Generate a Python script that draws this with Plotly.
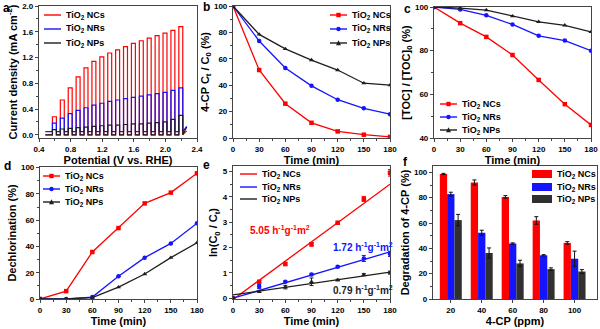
import plotly.graph_objects as go

W, H = 600, 329
FONT = "Liberation Sans, Arial, sans-serif"
RED, BLUE, BLACK = "#ff0000", "#1414ff", "#1e1e1e"
BAR_BLACK = "#303030"
AXC = "#444444"

series_names = ["TiO<sub>2</sub> NCs", "TiO<sub>2</sub> NRs", "TiO<sub>2</sub> NPs"]
colors = [RED, BLUE, BLACK]
symbols = ["square", "circle", "triangle-up"]
time_min = [0, 30, 60, 90, 120, 150, 180]

# ---------------- (a) chopped photocurrent ----------------
a_start_v = 0.48
a_end_v = 2.27
a_light_on_v = [0.57, 0.67, 0.77, 0.87, 0.97, 1.07, 1.17, 1.27, 1.37,
                1.47, 1.57, 1.67, 1.77, 1.87, 1.97, 2.07, 2.17]
a_light_width = 0.05
a_nc_light = [0.28, 0.54, 0.73, 0.90, 1.04, 1.14, 1.21, 1.27, 1.32,
              1.37, 1.42, 1.46, 1.50, 1.54, 1.58, 1.62, 1.68]
a_nr_light = [0.18, 0.26, 0.33, 0.38, 0.42, 0.46, 0.49, 0.52, 0.54,
              0.56, 0.58, 0.60, 0.62, 0.64, 0.66, 0.69, 0.73]
a_np_light = [0.08, 0.09, 0.10, 0.11, 0.12, 0.13, 0.14, 0.15, 0.15,
              0.16, 0.17, 0.17, 0.18, 0.19, 0.20, 0.24, 0.30]
a_dark = [0.0, 0.05, 0.0]
a_end = [0.06, 0.13, 0.12]

# ---------------- (b) 4-CP Ct/C0 ----------------
b_nc = [100, 51.5, 26.0, 11.5, 5.0, 2.5, 0.8]
b_nr = [100, 73.5, 53.0, 39.5, 29.0, 22.5, 18.0]
b_np = [100, 78.5, 67.5, 59.0, 51.5, 41.5, 40.0]

# ---------------- (c) TOC ----------------
c_nc = [100, 92.6, 86.3, 78.0, 66.6, 55.5, 46.0]
c_nr = [100, 98.9, 96.2, 92.0, 86.8, 84.6, 80.0]
c_np = [100, 99.5, 98.6, 95.8, 93.2, 91.6, 88.6]

# ---------------- (d) dechlorination ----------------
d_nc = [0, 6.0, 35.8, 54.0, 72.8, 81.0, 95.7]
d_nr = [0, 0.0, 1.5, 17.4, 31.5, 42.3, 57.7]
d_np = [0, 0.0, 1.0, 9.0, 19.0, 31.5, 42.8]

# ---------------- (e) kinetics ----------------
e_nc = [0, 0.65, 1.35, 2.13, 2.98, 3.92, 4.95]
e_nr = [0, 0.46, 0.65, 0.94, 1.24, 1.57, 1.75]
e_np = [0, 0.26, 0.44, 0.65, 0.72, 0.93, 1.01]
e_nc_err = [0, 0.05, 0.05, 0.07, 0.03, 0.10, 0.13]
e_nr_err = [0, 0.08, 0.03, 0.04, 0.03, 0.12, 0.10]
e_np_err = [0, 0.03, 0.07, 0.15, 0.03, 0.04, 0.06]
e_fit_t = [0, 180]
e_fit_nc = [-0.05, 4.50]
e_fit_nr = [0.00, 1.83]
e_fit_np = [0.13, 1.03]
e_rate_labels = ["5.05 h<sup>-1</sup>g<sup>-1</sup>m<sup>2</sup>",
                 "1.72 h<sup>-1</sup>g<sup>-1</sup>m<sup>2</sup>",
                 "0.79 h<sup>-1</sup>g<sup>-1</sup>m<sup>2</sup>"]

# ---------------- (f) degradation vs concentration ----------------
f_conc = [20, 40, 60, 80, 100]
f_nc = [98.7, 92.0, 80.6, 62.0, 44.3]
f_nr = [82.8, 52.3, 43.8, 34.5, 31.8]
f_np = [62.3, 36.3, 28.1, 23.6, 21.7]
f_nc_err = [0.5, 2.0, 1.0, 3.0, 1.0]
f_nr_err = [1.5, 2.0, 0.5, 0.5, 6.0]
f_np_err = [4.5, 4.0, 2.5, 1.0, 1.5]

fig = go.Figure()


def chop(light, dark, end):
    xs, ys = [a_start_v], [dark]
    for v, top in zip(a_light_on_v, light):
        xs += [v, v, v + a_light_width, v + a_light_width]
        ys += [dark, top, top, dark]
    xs.append(a_end_v)
    ys.append(end)
    return xs, ys


for i, light in enumerate([a_nc_light, a_nr_light, a_np_light]):
    xs, ys = chop(light, a_dark[i], a_end[i])
    fig.add_trace(go.Scatter(x=xs, y=ys, mode="lines", name=series_names[i],
                             line=dict(color=colors[i], width=1.2),
                             xaxis="x", yaxis="y", showlegend=False))

for ax_i, data in [(2, [b_nc, b_nr, b_np]), (3, [c_nc, c_nr, c_np]), (4, [d_nc, d_nr, d_np])]:
    for i, ys in enumerate(data):
        fig.add_trace(go.Scatter(x=time_min, y=ys, mode="lines+markers", name=series_names[i],
                                 line=dict(color=colors[i], width=1.3),
                                 marker=dict(symbol=symbols[i], size=4.5, color=colors[i]),
                                 xaxis=f"x{ax_i}", yaxis=f"y{ax_i}", showlegend=False))

for i, (ys, err, fit) in enumerate([(e_nc, e_nc_err, e_fit_nc), (e_nr, e_nr_err, e_fit_nr), (e_np, e_np_err, e_fit_np)]):
    fig.add_trace(go.Scatter(x=e_fit_t, y=fit, mode="lines", name=series_names[i],
                             line=dict(color=colors[i], width=1.3),
                             xaxis="x5", yaxis="y5", showlegend=False))
    fig.add_trace(go.Scatter(x=time_min, y=ys, mode="markers", name=series_names[i],
                             marker=dict(symbol=symbols[i], size=4.5, color=colors[i]),
                             error_y=dict(type="data", array=err, color=colors[i], thickness=1, width=2),
                             xaxis="x5", yaxis="y5", showlegend=False))

for i, (ys, err) in enumerate([(f_nc, f_nc_err), (f_nr, f_nr_err), (f_np, f_np_err)]):
    fig.add_trace(go.Bar(x=f_conc, y=ys, name=series_names[i],
                         marker=dict(color=[RED, BLUE, BAR_BLACK][i], line=dict(width=0)),
                         error_y=dict(type="data", array=err, color="#111", thickness=1, width=2),
                         xaxis="x6", yaxis="y6", showlegend=False))


def px(x):
    return x / W


def py(y):
    return 1 - y / H


# plot-area rectangles in pixels: (left, right, top, bottom)
boxes = {
    1: (39, 197, 6, 138),
    2: (233, 390, 6, 138),
    3: (434, 591, 7, 138),
    4: (40, 197, 167, 299),
    5: (233, 390, 166, 299),
    6: (433, 597, 166, 299),
}

tickfont = dict(family=FONT, size=8, color="black", weight="bold")
titlefont = dict(family=FONT, size=11, color="black", weight="bold")


def axis(dom, anchor, title, rng, dtick, minor_dtick, tickformat=None, standoff=2):
    d = dict(domain=dom, anchor=anchor, range=rng, dtick=dtick, tick0=0,
             showline=True, mirror=True, linecolor=AXC, linewidth=1.2,
             ticks="outside", ticklen=3, tickwidth=1, tickcolor=AXC,
             showgrid=False, zeroline=False, tickfont=tickfont,
             title=dict(text=title, font=titlefont, standoff=standoff),
             automargin=False)
    if minor_dtick is not None:
        d["minor"] = dict(ticks="outside", ticklen=2, dtick=minor_dtick, tickcolor=AXC, showgrid=False)
    if tickformat:
        d["tickformat"] = tickformat
    return d


specs = {
    1: ("Potential (V vs. RHE)", [0.4, 2.4], 0.4, 0.2, "Current density (mA cm<sup>-2</sup>)", [-0.05, 2.0], 0.4, 0.2, ".1f", ".1f"),
    2: ("Time (min)", [0, 180], 30, 15, "4-CP C<sub>t</sub> / C<sub>0</sub> (%)", [0, 100], 20, 10, None, None),
    3: ("Time (min)", [0, 180], 30, 15, "[TOC] / [TOC]<sub>0</sub> (%)", [40, 100], 20, 10, None, None),
    4: ("Time (min)", [0, 180], 30, 15, "Dechlorination (%)", [0, 100.5], 20, 10, None, None),
    5: ("Time (min)", [0, 180], 30, 15, "ln(C<sub>0</sub> / C<sub>t</sub>)", [-0.03, 5.22], 1, 0.5, None, None),
    6: ("4-CP (ppm)", [8.5, 114.5], 20, None, "Degradation of 4-CP (%)", [0, 105], 20, 10, None, None),
}

layout_axes = {}
for k, (xt, xr, xd, xm, yt, yr, yd, ym, xf, yf) in specs.items():
    l, r, t, b = boxes[k]
    sfx = "" if k == 1 else str(k)
    layout_axes[f"xaxis{sfx}"] = axis([px(l), px(r)], f"y{sfx}", xt, xr, xd, xm, xf, standoff=1)
    layout_axes[f"yaxis{sfx}"] = axis([py(b), py(t)], f"x{sfx}", yt, yr, yd, ym, yf, standoff=2)
layout_axes["xaxis6"]["tickvals"] = f_conc

shapes = []
annotations = []
legfont = dict(family=FONT, size=9, color="black", weight="bold")


def add_legend(x0, x1, ys, kind, with_markers):
    for i, y in enumerate(ys):
        c = colors[i]
        if kind == "bar":
            shapes.append(dict(type="rect", xref="paper", yref="paper",
                               x0=px(x0), x1=px(x1), y0=py(y + 4), y1=py(y - 4),
                               fillcolor=[RED, BLUE, BAR_BLACK][i], line=dict(width=0)))
        else:
            shapes.append(dict(type="line", xref="paper", yref="paper",
                               x0=px(x0), x1=px(x1), y0=py(y), y1=py(y),
                               line=dict(color=c, width=1.4)))
            if with_markers:
                cx = (x0 + x1) / 2
                s = 2.2
                if symbols[i] == "square":
                    shapes.append(dict(type="rect", xref="paper", yref="paper",
                                       x0=px(cx - s), x1=px(cx + s), y0=py(y + s), y1=py(y - s),
                                       fillcolor=c, line=dict(width=0)))
                elif symbols[i] == "circle":
                    shapes.append(dict(type="circle", xref="paper", yref="paper",
                                       x0=px(cx - s), x1=px(cx + s), y0=py(y + s), y1=py(y - s),
                                       fillcolor=c, line=dict(width=0)))
                else:
                    path = (f"M {px(cx - s - 0.3)} {py(y + s)} L {px(cx + s + 0.3)} {py(y + s)} "
                            f"L {px(cx)} {py(y - s - 0.5)} Z")
                    shapes.append(dict(type="path", xref="paper", yref="paper", path=path,
                                       fillcolor=c, line=dict(width=0)))
        annotations.append(dict(text=series_names[i], xref="paper", yref="paper",
                                x=px(x1 + 3), y=py(y), xanchor="left", yanchor="middle",
                                showarrow=False, font=legfont))


add_legend(44, 61, [15, 29, 43], "line", False)
add_legend(330, 347, [15, 29, 43], "line", True)
add_legend(440, 457, [104, 117, 130], "line", True)
add_legend(43, 60, [176, 189, 202], "line", True)
add_legend(240, 257, [174, 187, 199], "line", False)
add_legend(532, 552, [174, 187, 199], "bar", False)

# rate-constant labels in (e)
for lbl, xv, yv, c in [(e_rate_labels[0], 54, 2.7, RED), (e_rate_labels[1], 149, 2.03, BLUE),
                       (e_rate_labels[2], 149, 0.31, BLACK)]:
    annotations.append(dict(text=lbl, xref="x5", yref="y5", x=xv, y=yv, showarrow=False,
                            xanchor="center", yanchor="middle",
                            font=dict(family=FONT, size=10, color=c, weight="bold")))

# panel letters
for letter, x, y in [("a", 1, 8), ("b", 201, 7), ("c", 402, 9), ("d", 2, 166), ("e", 201, 165), ("f", 401, 162)]:
    annotations.append(dict(text=letter, xref="paper", yref="paper", x=px(x), y=py(y),
                            xanchor="left", yanchor="middle", showarrow=False,
                            font=dict(family=FONT, size=12, color="black", weight="bold")))

fig.update_layout(
    width=W, height=H,
    margin=dict(l=0, r=0, t=0, b=0),
    paper_bgcolor="white", plot_bgcolor="white",
    barmode="group", bargap=0.29, bargroupgap=0,
    font=dict(family=FONT, color="black"),
    shapes=shapes, annotations=annotations,
    showlegend=False,
    **layout_axes,
)

fig.write_html("out.html")
